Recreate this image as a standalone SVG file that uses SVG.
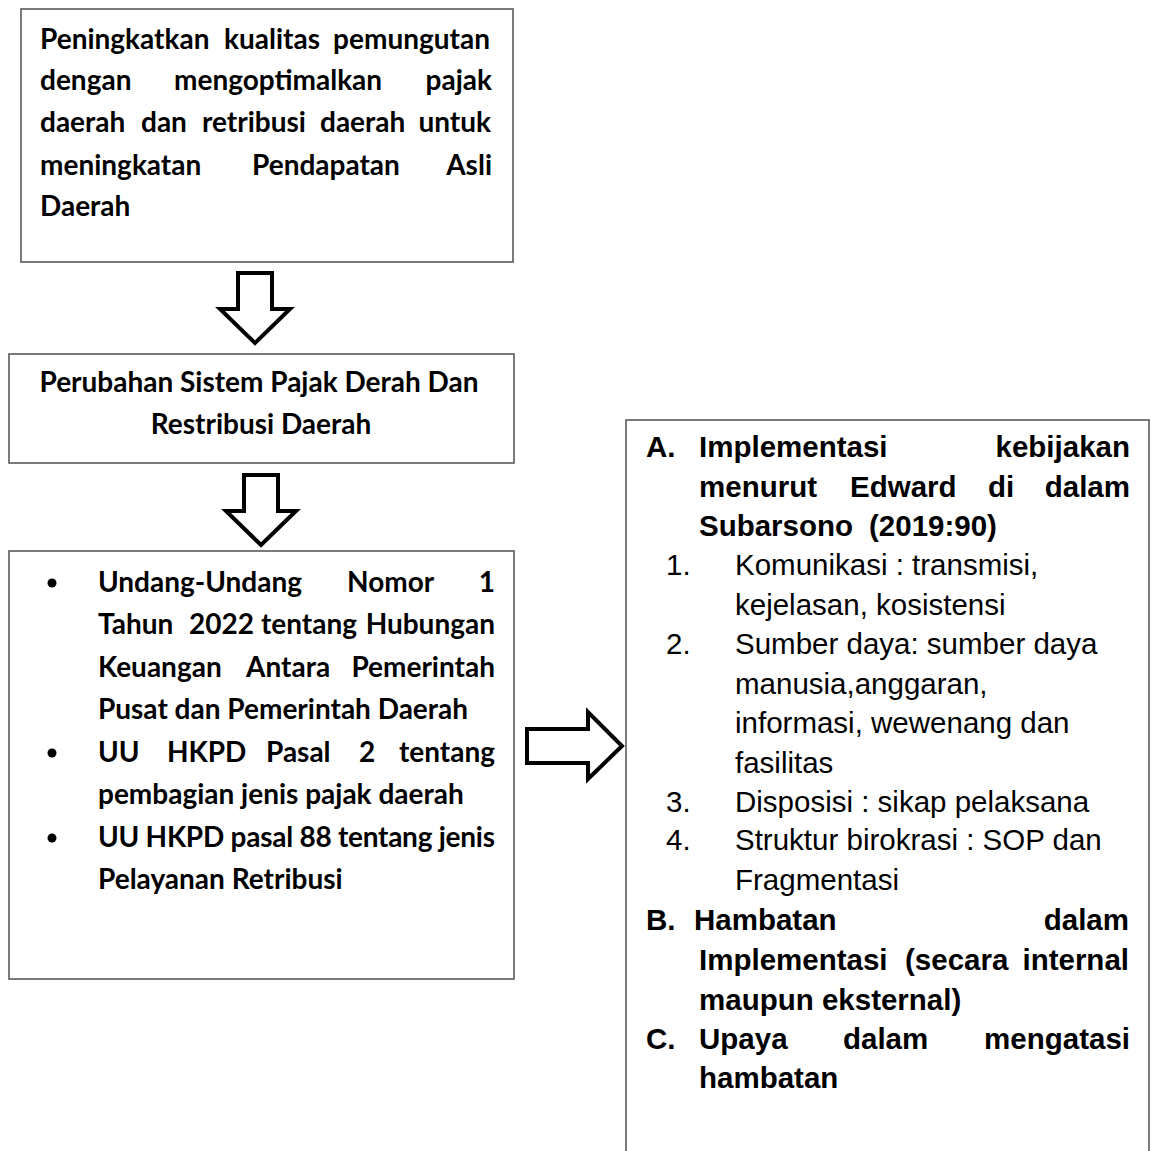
<svg xmlns="http://www.w3.org/2000/svg" width="1151" height="1151" viewBox="0 0 1151 1151">
<style>
.box{fill:#fff;stroke:#5a5a5a;stroke-width:1.6}
.arr{fill:#fff;stroke:#000;stroke-width:4;stroke-linejoin:miter}
.c{font-family:Lato,"Open Sans",sans-serif;font-weight:bold;font-size:28px;fill:#000}
.a{font-family:"Liberation Sans",Arial,sans-serif;font-size:29.5px;fill:#000}
.b{font-weight:bold}
.e{text-anchor:end}
.m{text-anchor:middle}
</style>
<rect width="1151" height="1151" fill="#fff"/>
<g id="connectors">
<path class="arr" d="M238,273 H272 V309 H290 L255,343 L220,309 H238 Z"/>
<path class="arr" d="M244,475 H278 V511 H296 L261,545 L226,511 H244 Z"/>
<path class="arr" d="M527,729 H588 V712 L622,746 L588,779 V763 H527 Z"/>
</g>
<g id="node1">
<rect class="box" x="21" y="9" width="492" height="253"/>
<text class="c"><tspan x="40" y="49">Peningkatkan</tspan><tspan x="224" y="49">kualitas</tspan><tspan class="e" x="490" y="49">pemungutan</tspan></text>
<text class="c"><tspan x="40" y="90">dengan</tspan><tspan x="174" y="90">mengoptimalkan</tspan><tspan class="e" x="492" y="90">pajak</tspan></text>
<text class="c"><tspan x="40" y="132">daerah</tspan><tspan x="141" y="132">dan</tspan><tspan x="202" y="132">retribusi</tspan><tspan x="320" y="132">daerah</tspan><tspan class="e" x="491" y="132">untuk</tspan></text>
<text class="c"><tspan x="40" y="175">meningkatan</tspan><tspan x="252" y="175">Pendapatan</tspan><tspan class="e" x="492" y="175">Asli</tspan></text>
<text class="c" x="40" y="216">Daerah</text>
</g>
<g id="node2">
<rect class="box" x="9" y="354" width="505" height="109"/>
<text class="c m" x="259" y="392">Perubahan Sistem Pajak Derah Dan</text>
<text class="c m" x="261" y="434">Restribusi Daerah</text>
</g>
<g id="node3">
<rect class="box" x="9" y="551" width="505" height="428"/>
<circle cx="52" cy="583" r="4.5"/>
<circle cx="52" cy="753" r="4.5"/>
<circle cx="52" cy="838" r="4.5"/>
<text class="c"><tspan x="98" y="592">Undang-Undang</tspan><tspan x="347" y="592">Nomor</tspan><tspan class="e" x="495" y="592">1</tspan></text>
<text class="c"><tspan x="98" y="634">Tahun</tspan><tspan x="189" y="634">2022</tspan><tspan x="261" y="634">tentang</tspan><tspan class="e" x="495" y="634">Hubungan</tspan></text>
<text class="c"><tspan x="98" y="677">Keuangan</tspan><tspan x="246" y="677">Antara</tspan><tspan class="e" x="495" y="677">Pemerintah</tspan></text>
<text class="c" x="98" y="719">Pusat dan Pemerintah Daerah</text>
<text class="c"><tspan x="98" y="762">UU</tspan><tspan x="167" y="762">HKPD</tspan><tspan x="266" y="762">Pasal</tspan><tspan x="359" y="762">2</tspan><tspan class="e" x="495" y="762">tentang</tspan></text>
<text class="c" x="98" y="804">pembagian jenis pajak daerah</text>
<text class="c" x="98" y="847" textLength="397" lengthAdjust="spacing">UU HKPD pasal 88 tentang jenis</text>
<text class="c" x="98" y="889">Pelayanan Retribusi</text>
</g>
<g id="node4">
<rect class="box" x="626" y="420" width="523" height="760"/>
<text class="a b"><tspan x="646" y="457">A.</tspan><tspan x="699" y="457">Implementasi</tspan><tspan class="e" x="1130" y="457">kebijakan</tspan></text>
<text class="a b"><tspan x="699" y="497">menurut</tspan><tspan x="850" y="497">Edward</tspan><tspan x="988" y="497">di</tspan><tspan class="e" x="1130" y="497">dalam</tspan></text>
<text class="a b"><tspan x="699" y="536">Subarsono</tspan><tspan x="869" y="536">(2019:90)</tspan></text>
<text class="a"><tspan x="666" y="575">1.</tspan><tspan x="735" y="575">Komunikasi : transmisi,</tspan></text>
<text class="a" x="735" y="615">kejelasan, kosistensi</text>
<text class="a"><tspan x="666" y="654">2.</tspan><tspan x="735" y="654">Sumber daya: sumber daya</tspan></text>
<text class="a" x="735" y="694">manusia,anggaran,</text>
<text class="a" x="735" y="733">informasi, wewenang dan</text>
<text class="a" x="735" y="773">fasilitas</text>
<text class="a"><tspan x="666" y="812">3.</tspan><tspan x="735" y="812">Disposisi : sikap pelaksana</tspan></text>
<text class="a"><tspan x="666" y="850">4.</tspan><tspan x="735" y="850">Struktur birokrasi : SOP dan</tspan></text>
<text class="a" x="735" y="890">Fragmentasi</text>
<text class="a b"><tspan x="646" y="930">B.</tspan><tspan x="694" y="930">Hambatan</tspan><tspan class="e" x="1129" y="930">dalam</tspan></text>
<text class="a b"><tspan x="699" y="970">Implementasi</tspan><tspan x="905" y="970">(secara</tspan><tspan class="e" x="1129" y="970">internal</tspan></text>
<text class="a b" x="699" y="1010">maupun eksternal)</text>
<text class="a b"><tspan x="646" y="1049">C.</tspan><tspan x="699" y="1049">Upaya</tspan><tspan x="843" y="1049">dalam</tspan><tspan class="e" x="1130" y="1049">mengatasi</tspan></text>
<text class="a b" x="699" y="1088">hambatan</text>
</g>
</svg>
